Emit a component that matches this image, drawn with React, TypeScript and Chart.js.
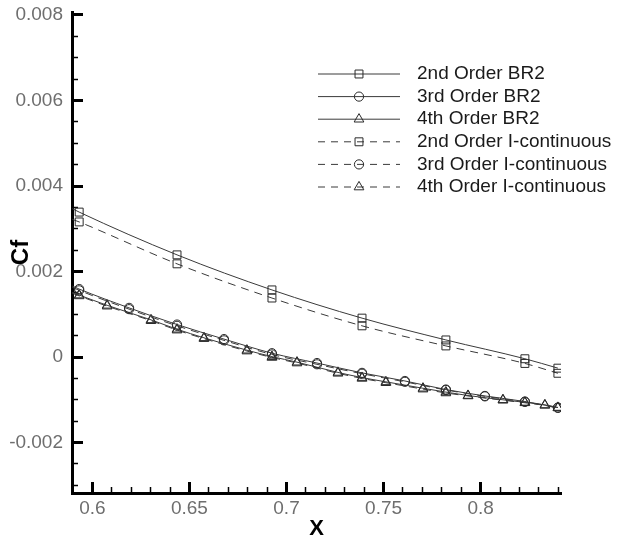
import { useEffect, useRef } from 'react';
import { Chart, registerables } from 'chart.js';

Chart.register(...registerables);

const FONT = "'Liberation Sans', Arial, Helvetica, sans-serif";

// ---- data ----
const seriesLabels = [
  '2nd Order BR2',
  '3rd Order BR2',
  '4th Order BR2',
  '2nd Order I-continuous',
  '3rd Order I-continuous',
  '4th Order I-continuous',
];

const x2nd = [0.5897, 0.5932, 0.6436, 0.6925, 0.7389, 0.7821, 0.8228, 0.8398];
const cf2ndBR2 = [0.00347, 0.00339, 0.00239, 0.00157, 0.00091, 0.0004, -0.00004, -0.00026];
const cf2ndIC = [0.00322, 0.00316, 0.00218, 0.00138, 0.00073, 0.00026, -0.00015, -0.00038];

const x3rd = [0.5897, 0.5932, 0.6189, 0.6436, 0.6678, 0.6925, 0.7157, 0.7389, 0.761, 0.7821, 0.8022, 0.8228, 0.8398];
const cf3rdBR2 = [0.00166, 0.00159, 0.00115, 0.00076, 0.00042, 0.00009, -0.00014, -0.00037, -0.00056, -0.00076, -0.00091, -0.00104, -0.00118];
const cf3rdIC = [0.00163, 0.00156, 0.00112, 0.00073, 0.00039, 0.00006, -0.00017, -0.00039, -0.00058, -0.00077, -0.00092, -0.00105, -0.00119];

const x4th = [0.5897, 0.5932, 0.6076, 0.6302, 0.6436, 0.6575, 0.6796, 0.6925, 0.7054, 0.7265, 0.7389, 0.7512, 0.7703, 0.7821, 0.7935, 0.8115, 0.8228, 0.8331, 0.8398];
const cf4thBR2 = [0.00151, 0.00145, 0.00121, 0.00087, 0.00065, 0.00045, 0.00016, 0.00001, -0.00012, -0.00036, -0.00048, -0.00058, -0.00073, -0.00082, -0.0009, -0.001, -0.00106, -0.00112, -0.00118];
const cf4thIC = [0.00149, 0.00143, 0.00119, 0.00085, 0.00063, 0.00043, 0.00014, -0.00001, -0.00014, -0.00038, -0.0005, -0.0006, -0.00075, -0.00084, -0.00091, -0.00101, -0.00107, -0.00113, -0.00119];

const xTickValues = [0.6, 0.65, 0.7, 0.75, 0.8];
const xTickLabels = ['0.6', '0.65', '0.7', '0.75', '0.8'];
const yTickValues = [-0.002, 0, 0.002, 0.004, 0.006, 0.008];
const yTickLabels = ['-0.002', '0', '0.002', '0.004', '0.006', '0.008'];

const X_MIN = 0.5895;
const X_MAX = 0.8414;
const Y_MIN = -0.00318;
const Y_MAX = 0.00807;

const toPoints = (xs: number[], ys: number[]) => xs.map((x, i) => ({ x, y: ys[i] }));

const markerSize: Record<string, number> = { rect: 5.6, circle: 4.6, triangle: 5.6 };

function drawMarker(ctx: CanvasRenderingContext2D, style: string, x: number, y: number) {
  const r = markerSize[style];
  ctx.beginPath();
  if (style === 'rect') {
    const h = Math.SQRT1_2 * r;
    ctx.rect(x - h, y - h, 2 * h, 2 * h);
  } else if (style === 'circle') {
    ctx.arc(x, y, r, 0, Math.PI * 2);
  } else {
    const a = (2 * Math.PI) / 3;
    ctx.moveTo(x, y - r);
    ctx.lineTo(x + Math.sin(a) * r, y - Math.cos(a) * r);
    ctx.lineTo(x + Math.sin(2 * a) * r, y - Math.cos(2 * a) * r);
    ctx.closePath();
  }
  ctx.stroke();
}

const tecLegend = {
  id: 'tecLegend',
  afterDatasetsDraw(chart: any) {
    const { ctx, chartArea } = chart;
    const x0 = chartArea.left + 246;
    const x1 = x0 + 82;
    const xm = (x0 + x1) / 2;
    const tx = x1 + 17;
    let y = chartArea.top + 62;
    chart.data.datasets.forEach((ds: any) => {
      ctx.save();
      ctx.strokeStyle = '#3a3a3a';
      ctx.lineWidth = 1;
      ctx.setLineDash(ds.borderDash && ds.borderDash.length ? [7, 6] : []);
      ctx.beginPath();
      ctx.moveTo(x0, y);
      ctx.lineTo(x1, y);
      ctx.stroke();
      ctx.setLineDash([]);
      ctx.strokeStyle = '#2a2a2a';
      drawMarker(ctx, ds.pointStyle, xm, y);
      ctx.fillStyle = '#1a1a1a';
      ctx.font = `19px ${FONT}`;
      ctx.textAlign = 'left';
      ctx.textBaseline = 'middle';
      ctx.fillText(ds.label, tx, y);
      ctx.restore();
      y += 22.6;
    });
  },
};

function makeDataset(label: string, xs: number[], ys: number[], style: string, dashed: boolean) {
  const r = markerSize[style];
  return {
    label,
    data: toPoints(xs, ys),
    borderColor: '#3a3a3a',
    borderWidth: 1,
    borderDash: dashed ? [8, 6] : [],
    pointStyle: style,
    pointRadius: (c: any) => (c.dataIndex === 0 ? 0 : r),
    pointBorderColor: '#2a2a2a',
    pointBackgroundColor: 'rgba(0,0,0,0)',
    pointBorderWidth: 1,
    cubicInterpolationMode: 'monotone',
    fill: false,
  };
}

const zeroPad = (s: any) => {
  s.paddingTop = 0;
  s.paddingBottom = 0;
  s.paddingLeft = 0;
  s.paddingRight = 0;
};

export default function App() {
  const ref = useRef<HTMLCanvasElement | null>(null);

  useEffect(() => {
    if (!ref.current) return;
    const chart = new Chart(ref.current, {
      type: 'line',
      data: {
        datasets: [
          makeDataset(seriesLabels[0], x2nd, cf2ndBR2, 'rect', false),
          makeDataset(seriesLabels[1], x3rd, cf3rdBR2, 'circle', false),
          makeDataset(seriesLabels[2], x4th, cf4thBR2, 'triangle', false),
          makeDataset(seriesLabels[3], x2nd, cf2ndIC, 'rect', true),
          makeDataset(seriesLabels[4], x3rd, cf3rdIC, 'circle', true),
          makeDataset(seriesLabels[5], x4th, cf4thIC, 'triangle', true),
        ] as any,
      },
      options: {
        responsive: false,
        animation: false,
        events: [],
        layout: { padding: { left: 0, top: 12, right: 59, bottom: 0 } },
        plugins: { legend: { display: false }, tooltip: { enabled: false } },
        scales: {
          x: {
            type: 'linear',
            position: 'bottom',
            weight: 1,
            min: X_MIN,
            max: X_MAX,
            afterBuildTicks: (s: any) => {
              s.ticks = xTickValues.map((v) => ({ value: v }));
            },
            afterFit: (s: any) => {
              s.height = 51;
              zeroPad(s);
            },
            ticks: {
              callback: (_v: any, i: number) => xTickLabels[i],
              color: '#6e6e6e',
              font: { family: FONT, size: 19 },
              padding: 15,
              maxRotation: 0,
              autoSkip: false,
            },
            grid: { drawOnChartArea: false, drawTicks: true, tickLength: -11, tickWidth: 3, tickColor: '#000' },
            border: { display: true, color: '#000', width: 3 },
            title: {
              display: true,
              text: 'X',
              color: '#000',
              font: { family: FONT, size: 22, weight: 'bold', lineHeight: 1 },
              padding: { top: 0, bottom: 4 },
            },
          },
          xMinor: {
            type: 'linear',
            position: 'bottom',
            weight: 0,
            min: X_MIN,
            max: X_MAX,
            afterFit: (s: any) => {
              s.height = 0;
              zeroPad(s);
            },
            ticks: { display: false, stepSize: 0.01, includeBounds: false },
            grid: { drawOnChartArea: false, drawTicks: true, tickLength: -6, tickWidth: 1.5, tickColor: '#000' },
            border: { display: false },
          },
          y: {
            type: 'linear',
            position: 'left',
            weight: 1,
            min: Y_MIN,
            max: Y_MAX,
            afterBuildTicks: (s: any) => {
              s.ticks = yTickValues.map((v) => ({ value: v }));
            },
            afterFit: (s: any) => {
              s.width = 72;
              zeroPad(s);
            },
            ticks: {
              callback: (_v: any, i: number) => yTickLabels[i],
              color: '#6e6e6e',
              font: { family: FONT, size: 19 },
              padding: 20,
              autoSkip: false,
            },
            grid: { drawOnChartArea: false, drawTicks: true, tickLength: -11, tickWidth: 3, tickColor: '#000' },
            border: { display: true, color: '#000', width: 3 },
            title: {
              display: true,
              text: 'Cf',
              color: '#000',
              font: { family: FONT, size: 24, weight: 'bold', lineHeight: 1 },
              padding: { top: 9, bottom: 0 },
            },
          },
          yMinor: {
            type: 'linear',
            position: 'left',
            weight: 0,
            min: Y_MIN,
            max: Y_MAX,
            afterFit: (s: any) => {
              s.width = 0;
              zeroPad(s);
            },
            ticks: { display: false, stepSize: 0.0005, includeBounds: false },
            grid: { drawOnChartArea: false, drawTicks: true, tickLength: -6, tickWidth: 1.5, tickColor: '#000' },
            border: { display: false },
          },
        },
      } as any,
      plugins: [tecLegend],
    });
    return () => chart.destroy();
  }, []);

  return (
    <div style={{ position: 'absolute', left: 0, top: 0, width: 620, height: 544, background: '#fff' }}>
      <canvas ref={ref} width={620} height={544} style={{ display: 'block' }} />
    </div>
  );
}
